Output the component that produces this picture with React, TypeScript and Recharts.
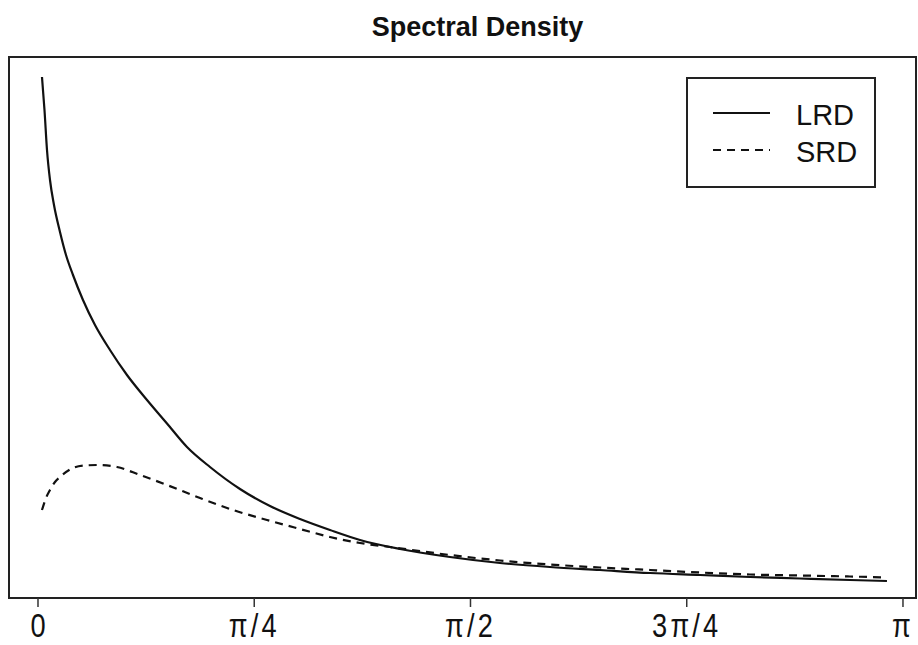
import React from 'react';
import {
  LineChart, Line, XAxis, YAxis, ReferenceArea
} from 'recharts';

// frequency (radians) and spectral density readings
const lrdFreq = [
  0.0145, 0.0236, 0.0327, 0.0436, 0.0581, 0.0799, 0.1017, 0.1271, 0.1634, 0.207,
  0.2615, 0.3232, 0.3959, 0.4685, 0.5411, 0.6247, 0.7336, 0.8426, 0.9516, 1.0605,
  1.1695, 1.3147, 1.4963, 1.6779, 1.8595, 2.0411, 2.2227, 2.4043, 2.5859, 2.7675,
  2.9491, 3.0834
];
const lrdDensity = [
  5.21, 4.88, 4.48, 4.18, 3.93, 3.66, 3.43, 3.23, 2.98, 2.73,
  2.48, 2.23, 1.98, 1.745, 1.51, 1.31, 1.09, 0.92, 0.79, 0.68,
  0.58, 0.49, 0.41, 0.35, 0.31, 0.28, 0.25, 0.23, 0.21, 0.195,
  0.18, 0.17
];

const srdFreq = [
  0.0145, 0.0291, 0.0436, 0.0617, 0.0799, 0.1271, 0.1707, 0.2179, 0.2869, 0.3705,
  0.4685, 0.5884, 0.7082, 0.8317, 0.9516, 1.0605, 1.1695, 1.2784, 1.4963, 1.6779,
  1.8595, 2.0411, 2.2227, 2.4043, 2.5859, 2.7675, 2.9491, 3.0834
];
const srdDensity = [
  0.88, 1.0, 1.08, 1.16, 1.21, 1.3, 1.325, 1.33, 1.31, 1.23,
  1.13, 1.0, 0.88, 0.78, 0.69, 0.61, 0.55, 0.51, 0.43, 0.375,
  0.335, 0.305, 0.28, 0.255, 0.235, 0.225, 0.215, 0.205
];

const tickValues = [0, Math.PI / 4, Math.PI / 2, (3 * Math.PI) / 4, Math.PI];
const tickLabels = ['0', 'π/4', 'π/2', '3π/4', 'π'];

const seriesNames = ['LRD', 'SRD'];

const lrdData = lrdFreq.map((f, i) => ({ freq: f, density: lrdDensity[i] }));
const srdData = srdFreq.map((f, i) => ({ freq: f, density: srdDensity[i] }));

const X_DOMAIN = [-0.1053, 3.1889];
const Y_DOMAIN = [0, 5.41];
const FONT = '"Liberation Sans", Arial, Helvetica, sans-serif';

const PiTick = ({ x, y, index }: any) => (
  <g transform={`translate(${x},${y})`}>
    <text
      transform="scale(0.8,1)"
      y={28}
      textAnchor="middle"
      fontSize={34}
      fontFamily={FONT}
      fill="#111"
      letterSpacing={index === 0 ? 0 : 4}
    >
      {tickLabels[index]}
    </text>
  </g>
);

// legend box drawn over the plot, outside recharts' layout
const LegendBox = () => (
  <div
    style={{
      position: 'absolute',
      left: 686,
      top: 77,
      width: 186,
      height: 107,
      border: '2px solid #222',
      background: '#fff',
    }}
  >
    <svg width={186} height={107} style={{ position: 'absolute', left: 0, top: 0 }}>
      <line x1={25} x2={82} y1={34} y2={34} stroke="#111" strokeWidth={2} />
      <line x1={25} x2={82} y1={71} y2={71} stroke="#111" strokeWidth={2} strokeDasharray="8 6" />
      <text x={108} y={46} fontSize={29} fontFamily={FONT} fill="#111">{seriesNames[0]}</text>
      <text x={108} y={83} fontSize={29} fontFamily={FONT} fill="#111">{seriesNames[1]}</text>
    </svg>
  </div>
);

const SpectralDensity = () => (
  <div style={{ position: 'absolute', left: 0, top: 0, width: 918, height: 645, background: '#fff' }}>
    <div
      style={{
        position: 'absolute',
        left: 24,
        width: 907,
        top: 12,
        textAlign: 'center',
        fontFamily: FONT,
        fontWeight: 'bold',
        fontSize: 27,
        color: '#111',
      }}
    >
      Spectral Density
    </div>
    <LineChart
      width={918}
      height={645}
      margin={{ top: 57, right: 2, bottom: 7, left: 9 }}
    >
      <XAxis
        dataKey="freq"
        type="number"
        domain={X_DOMAIN}
        ticks={tickValues}
        allowDataOverflow
        axisLine={false}
        tickLine={{ stroke: '#333', strokeWidth: 1.5 }}
        tickSize={9}
        height={40}
        tick={<PiTick />}
        interval={0}
      />
      <YAxis type="number" domain={Y_DOMAIN} hide width={0} allowDataOverflow />
      <ReferenceArea
        x1={X_DOMAIN[0]}
        x2={X_DOMAIN[1]}
        y1={Y_DOMAIN[0]}
        y2={Y_DOMAIN[1]}
        fill="none"
        fillOpacity={0}
        stroke="#222"
        strokeWidth={2}
        ifOverflow="visible"
      />
      <Line
        data={lrdData}
        dataKey="density"
        name={seriesNames[0]}
        type="monotone"
        stroke="#111"
        strokeWidth={2.2}
        dot={false}
        isAnimationActive={false}
      />
      <Line
        data={srdData}
        dataKey="density"
        name={seriesNames[1]}
        type="monotone"
        stroke="#111"
        strokeWidth={2.2}
        strokeDasharray="8 6"
        dot={false}
        isAnimationActive={false}
      />
    </LineChart>
    <LegendBox />
  </div>
);

export default function App() {
  return <SpectralDensity />;
}
